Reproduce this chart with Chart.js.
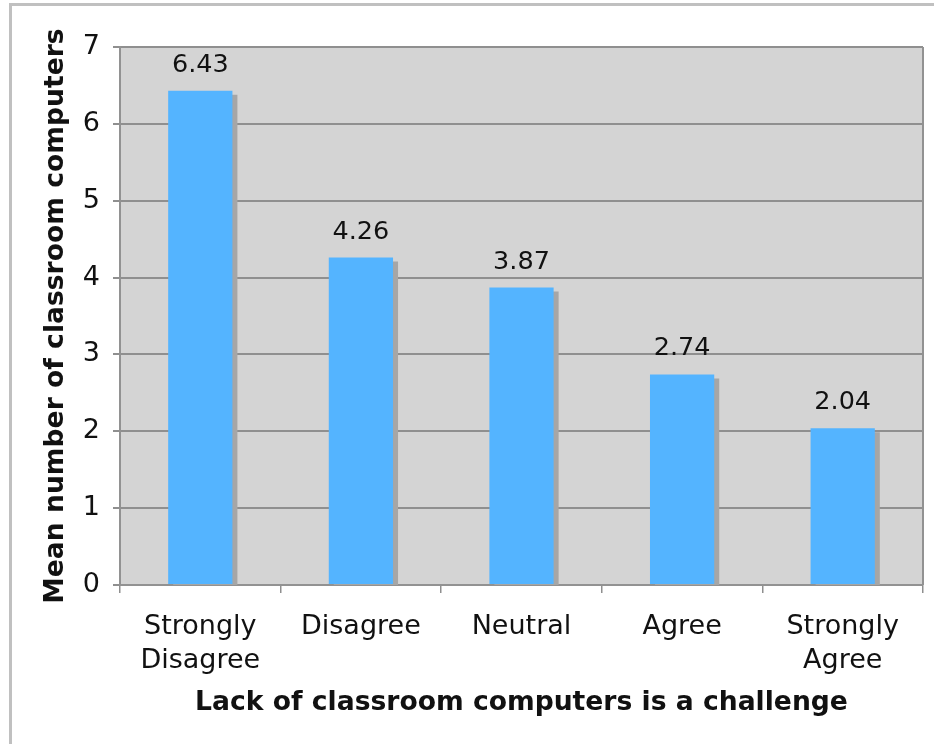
<!DOCTYPE html>
<html><head><meta charset="utf-8">
<script src="https://cdn.jsdelivr.net/npm/chart.js@4/dist/chart.umd.min.js"></script>
<style>
html,body{margin:0;padding:0;background:#fff;}
#wrap{position:relative;width:934px;height:744px;overflow:hidden;background:#fff;}
#frame{position:absolute;left:9px;top:3px;width:1000px;height:1000px;border-top:3px solid #c0c0c0;border-left:3px solid #c0c0c0;box-sizing:border-box;}
canvas{position:absolute;left:0;top:0;}
</style></head><body>
<div id="wrap"><div id="frame"></div><canvas id="c" width="934" height="744"></canvas></div>
<script>
const categories = [["Strongly","Disagree"],"Disagree","Neutral","Agree",["Strongly","Agree"]];
const meanComputers = [6.43, 4.26, 3.87, 2.74, 2.04];
const valueLabels = ["6.43","4.26","3.87","2.74","2.04"];
const yMin = 0, yMax = 7, yStep = 1;
const xTitle = "Lack of classroom computers is a challenge";
const yTitle = "Mean number of classroom computers";

const FONT = "'DejaVu Sans', Verdana, sans-serif";

const plotBg = {
  id: 'plotBg',
  beforeDraw(chart) {
    const {ctx, chartArea: a} = chart;
    ctx.save();
    ctx.fillStyle = '#d4d4d4';
    ctx.fillRect(a.left, a.top, a.right - a.left, a.bottom - a.top);
    ctx.restore();
  },
  beforeDatasetsDraw(chart) {
    const ctx = chart.ctx;
    ctx.save();
    ctx.shadowColor = '#a6a6a6';
    ctx.shadowOffsetX = 5;
    ctx.shadowOffsetY = 4;
    ctx.shadowBlur = 0;
  },
  afterDatasetsDraw(chart) {
    const ctx = chart.ctx;
    ctx.restore();
    const a = chart.chartArea;
    ctx.save();
    ctx.strokeStyle = '#929292';
    ctx.lineWidth = 2;
    ctx.beginPath();
    ctx.moveTo(a.right, a.top);
    ctx.lineTo(a.right, a.bottom);
    ctx.stroke();
    ctx.restore();
    const meta = chart.getDatasetMeta(0);
    ctx.save();
    ctx.fillStyle = '#111';
    ctx.font = "25.5px " + FONT;
    ctx.textAlign = 'center';
    ctx.textBaseline = 'alphabetic';
    meta.data.forEach((bar, i) => {
      ctx.fillText(valueLabels[i], bar.x, bar.y - 19);
    });
    ctx.restore();
  }
};

new Chart(document.getElementById('c'), {
  type: 'bar',
  data: {
    labels: categories,
    datasets: [{
      data: meanComputers,
      backgroundColor: '#54b4ff',
      borderWidth: 0,
      categoryPercentage: 1,
      barPercentage: 0.4
    }]
  },
  options: {
    responsive: false,
    animation: false,
    devicePixelRatio: 1,
    events: [],
    layout: { padding: { top: 47, right: 11, bottom: 0, left: 0 } },
    plugins: { legend: { display: false }, tooltip: { enabled: false } },
    scales: {
      x: {
        offset: true,
        afterFit(s) { s.height = 159; },
        grid: { offset: true, drawOnChartArea: false, drawTicks: true, tickLength: 8, color: '#8f8f8f', lineWidth: 1.5 },
        border: { display: true, color: '#929292', width: 2 },
        ticks: { color: '#111', font: { family: FONT, size: 27, lineHeight: 1.25 }, padding: 17, maxRotation: 0, autoSkip: false },
        title: { display: true, text: xTitle, color: '#111', font: { family: FONT, size: 26.6, weight: 'bold', lineHeight: 1.2 }, padding: { top: 0, bottom: 25 } }
      },
      y: {
        min: yMin, max: yMax,
        afterFit(s) { s.width = 120; },
        grid: { color: '#8f8f8f', lineWidth: 2, tickLength: 7, drawTicks: true },
        border: { display: true, color: '#929292', width: 2 },
        ticks: { stepSize: yStep, color: '#111', font: { family: FONT, size: 27 }, padding: 13 },
        title: { display: true, text: yTitle, color: '#111', font: { family: FONT, size: 26.6, weight: 'bold', lineHeight: 1.2 }, padding: { top: 40, bottom: 0 } }
      }
    }
  },
  plugins: [plotBg]
});
</script>
</body></html>
